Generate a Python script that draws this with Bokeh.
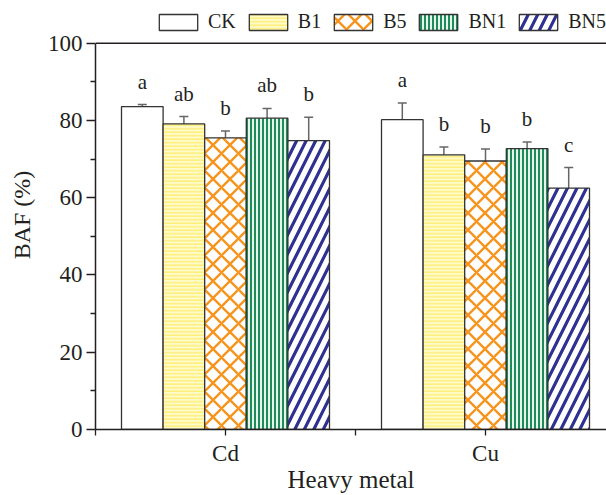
from bokeh.plotting import figure
from bokeh.models import (ColumnDataSource, Range1d, FixedTicker, Whisker, TeeHead,
                          Legend, LegendItem, Span)
from bokeh.core.properties import value
from bokeh.embed import file_html
from bokeh.resources import INLINE

metals = ["Cd", "Cu"]
treatments = ["CK", "B1", "B5", "BN1", "BN5"]
baf = {
    "CK":  [83.6, 80.2],
    "B1":  [79.1, 71.1],
    "B5":  [75.5, 69.5],
    "BN1": [80.6, 72.7],
    "BN5": [74.8, 62.5],
}
err = {
    "CK":  [0.5, 4.3],
    "B1":  [1.9, 2.0],
    "B5":  [1.8, 3.1],
    "BN1": [2.5, 1.7],
    "BN5": [6.0, 5.3],
}
letters = {
    "CK":  ["a", "a"],
    "B1":  ["ab", "b"],
    "B5":  ["b", "b"],
    "BN1": ["ab", "b"],
    "BN5": ["b", "c"],
}
y_ticks = [0, 20, 40, 60, 80, 100]
y_max = 100

FONT = "Liberation Serif"
AX = "#231F20"

styles = {
    "CK":  dict(fill_color="white"),
    "B1":  dict(fill_color="#FFFBC8", hatch_pattern="horizontal_line", hatch_color="#FFEF80",
                hatch_scale=3.5, hatch_weight=1.6),
    "B5":  dict(fill_color="white", hatch_pattern="diagonal_cross", hatch_color="#F7941D",
                hatch_scale=17, hatch_weight=2.4),
    "BN1": dict(fill_color="#E6F4EC", hatch_pattern="vertical_line", hatch_color="#1E8C5A",
                hatch_scale=4, hatch_weight=2.0),
    "BN5": dict(fill_color="white", hatch_pattern="right_diagonal_line", hatch_color="#2E3192",
                hatch_scale=19, hatch_weight=3.2),
}

bar_w = 0.16
offsets = [-0.32, -0.16, 0.0, 0.16, 0.32]

frame_bottom_px = 432
frame_h = frame_bottom_px
p = figure(width=606, height=495, output_backend="svg", toolbar_location=None,
           x_range=Range1d(0.5, 0.5 + 511 / 260),
           y_range=Range1d(0, y_max * frame_h / 389),
           min_border_left=95, min_border_right=0, min_border_top=0,
           min_border_bottom=495 - frame_bottom_px)
p.outline_line_color = None
p.grid.visible = False
p.background_fill_color = "white"

items = []
for t, off in zip(treatments, offsets):
    xs = [i + 1 + off for i in range(len(metals))]
    src = ColumnDataSource(dict(
        x=xs, top=baf[t],
        upper=[v + e for v, e in zip(baf[t], err[t])],
        lower=[v - e for v, e in zip(baf[t], err[t])],
        lab=letters[t],
    ))
    r = p.vbar(x="x", top="top", bottom=0, width=bar_w, source=src,
               line_color="#333333", line_width=1.3, **styles[t])
    w = Whisker(base="x", upper="upper", lower="lower", source=src,
                line_color="#666666", line_width=1.5,
                upper_head=TeeHead(size=9, line_color="#666666", line_width=1.5),
                lower_head=TeeHead(size=9, line_color="#666666", line_width=1.5))
    p.add_layout(w)
    p.text(x="x", y="upper", text="lab", source=src, text_align="center",
           text_baseline="bottom", y_offset=-11, text_font=value(FONT),
           text_font_size="21px", text_color=AX)
    items.append(LegendItem(label=t, renderers=[r]))

# top frame line at 100
p.add_layout(Span(location=y_max, dimension="width", line_color=AX, line_width=1.5))

legend = Legend(items=items, orientation="horizontal", location=(59, 396),
                glyph_width=48, glyph_height=20, label_standoff=6, spacing=8,
                padding=0, margin=0, border_line_color=None, background_fill_alpha=0,
                label_text_font=FONT, label_text_font_size="20px", label_text_color=AX,
                label_height=20)
p.add_layout(legend, "center")

# axes
xa = p.xaxis[0]
xa.ticker = FixedTicker(ticks=[0.5, 1, 1.5, 2, 2.5], minor_ticks=[])
xa.major_label_overrides = {0.5: "", 1: "Cd", 1.5: "", 2: "Cu", 2.5: ""}
xa.axis_label = "Heavy metal"
ya = p.yaxis[0]
ya.ticker = FixedTicker(ticks=y_ticks, minor_ticks=[10, 30, 50, 70, 90])
ya.axis_label = "BAF (%)"
ya.bounds = (0, y_max)
for ax in (xa, ya):
    ax.axis_line_color = AX
    ax.axis_line_width = 1.5
    ax.major_tick_line_color = AX
    ax.minor_tick_line_color = AX
    ax.major_tick_line_width = 1.3
    ax.minor_tick_line_width = 1.3
    ax.major_tick_in = 0
    ax.minor_tick_in = 0
    ax.major_label_text_font = FONT
    ax.major_label_text_font_size = "23px"
    ax.major_label_text_color = AX
    ax.axis_label_text_font = FONT
    ax.axis_label_text_font_style = "normal"
    ax.axis_label_text_color = AX
xa.major_tick_out = 6
xa.minor_tick_out = 0
xa.major_label_standoff = 5
xa.axis_label_text_font_size = "25px"
xa.axis_label_standoff = -3
ya.major_tick_out = 9
ya.minor_tick_out = 5
ya.major_label_standoff = 4
ya.axis_label_text_font_size = "24px"
ya.axis_label_standoff = 10

open("out.html", "w").write(file_html(p, INLINE))
